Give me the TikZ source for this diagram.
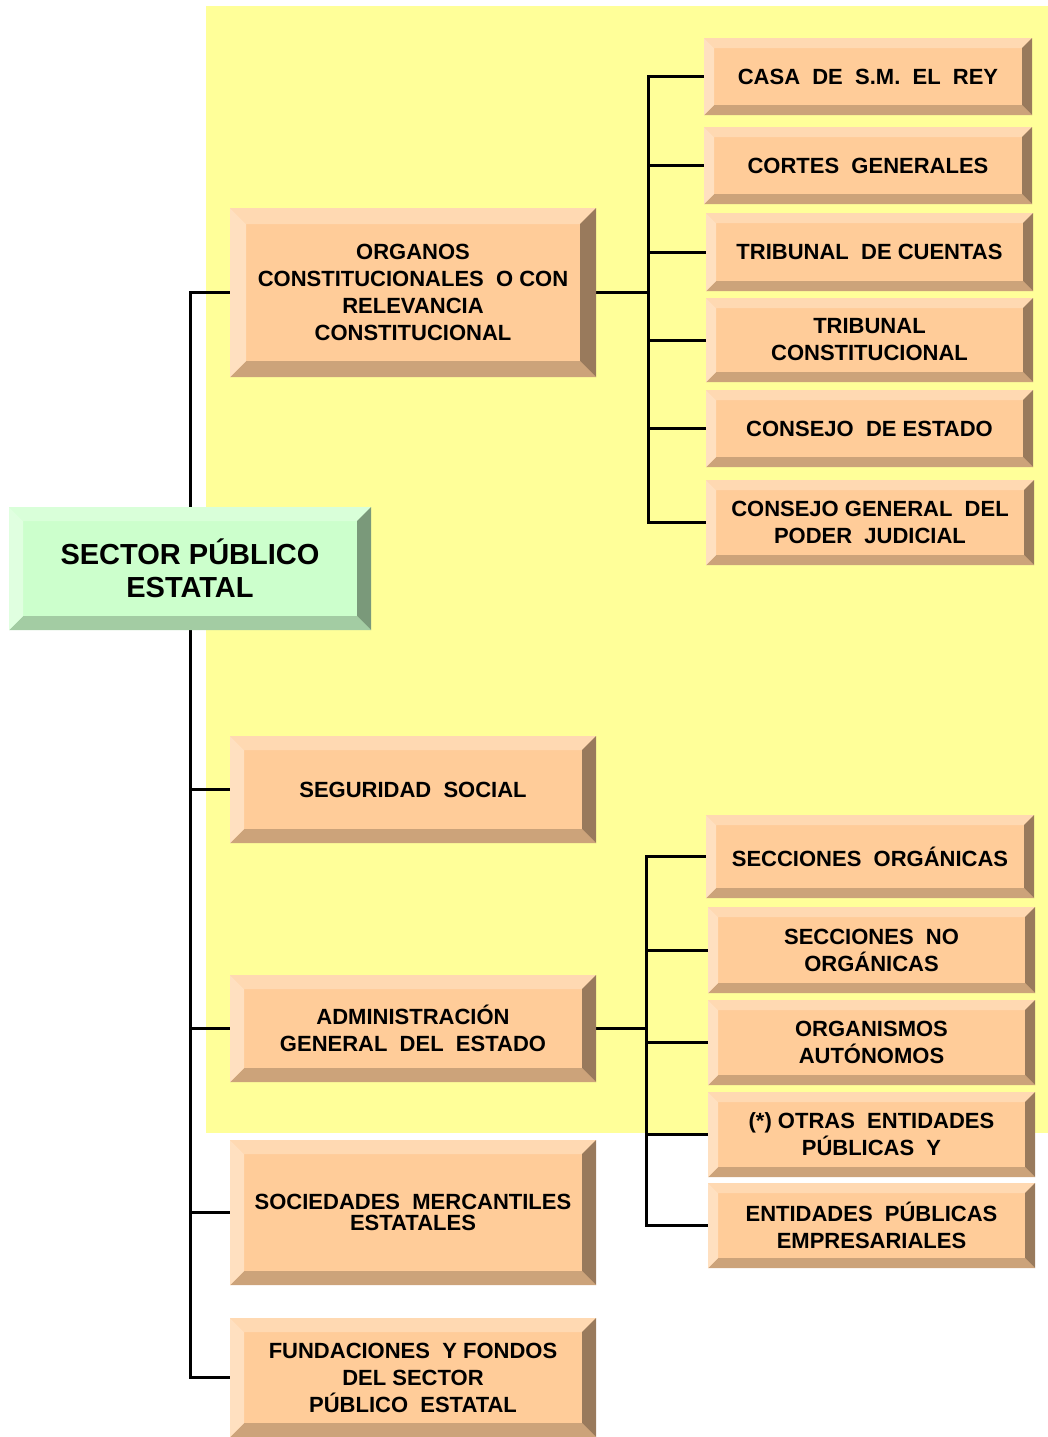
\documentclass[tikz,border=0pt]{standalone}
\usepackage{fontspec}
\setmainfont{Liberation Sans}
\usetikzlibrary{backgrounds}

\definecolor{panel}{RGB}{255,255,153}
\definecolor{orface}{RGB}{255,204,153}
\definecolor{ortop}{RGB}{255,217,178}
\definecolor{orleft}{RGB}{255,224,192}
\definecolor{orbot}{RGB}{204,163,122}
\definecolor{orright}{RGB}{153,122,92}
\definecolor{grface}{RGB}{204,255,204}
\definecolor{grtop}{RGB}{217,255,217}
\definecolor{grleft}{RGB}{224,255,224}
\definecolor{grbot}{RGB}{163,204,163}
\definecolor{grright}{RGB}{122,153,122}

\newcommand\boxfont{\bfseries\fontsize{11}{13.5}\selectfont}
\newcommand\rootfont{\bfseries\fontsize{14.5}{16.5}\selectfont}

\begin{document}
\begin{tikzpicture}[x=0.5pt,y=-0.5pt,line join=miter]

		\tikzset{
			bevel/.style n args={6}{fill=#2, path picture={
				\coordinate (pa) at (path picture bounding box.north west);
				\coordinate (pb) at (path picture bounding box.north east);
				\coordinate (pc) at (path picture bounding box.south east);
				\coordinate (pd) at (path picture bounding box.south west);
				\fill[#3] (pa) -- (pb) -- ([shift={(-#1,-#1)}]pb) -- ([shift={(#1,-#1)}]pa) -- cycle;
				\fill[#6] (pb) -- (pc) -- ([shift={(-#1,#1)}]pc) -- ([shift={(-#1,-#1)}]pb) -- cycle;
				\fill[#5] (pc) -- (pd) -- ([shift={(#1,#1)}]pd) -- ([shift={(-#1,#1)}]pc) -- cycle;
				\fill[#4] (pd) -- (pa) -- ([shift={(#1,-#1)}]pa) -- ([shift={(#1,#1)}]pd) -- cycle;
			}},
			box/.style={rectangle, inner sep=0pt, align=center, font=\boxfont},
			bsize/.style 2 args={minimum width=#1*0.5pt, minimum height=#2*0.5pt},
			orangebox/.style={box, bevel={#1}{orface}{ortop}{orleft}{orbot}{orright}},
			orangebox/.default=5pt,
			greenbox/.style={box, bevel={7pt}{grface}{grtop}{grleft}{grbot}{grright}},
			link/.style={line width=1.5pt}
		}

		\useasboundingbox (0,0) rectangle (1048,1437);

		% root
		\node[greenbox, bsize={362}{123}, font=\rootfont] (root) at (190,568.5) {SECTOR PÚBLICO\\ESTATAL};

		% left column
		\node[orangebox=8pt, bsize={366}{169}] (organos) at (413,292.5) {ORGANOS\\CONSTITUCIONALES \ O CON\\RELEVANCIA\\CONSTITUCIONAL};
		\node[orangebox=7pt, bsize={366}{107}] (segsocial) at (413,789.5) {SEGURIDAD \ SOCIAL};
		\node[orangebox=7pt, bsize={366}{107}] (age) at (413,1028.5) {ADMINISTRACIÓN\\GENERAL \ DEL \ ESTADO};
		\node[orangebox=7pt, bsize={366}{145}] (sociedades) at (413,1212.5) {SOCIEDADES \ MERCANTILES\\[-3pt]ESTATALES};
		\node[orangebox=7pt, bsize={366}{119}] (fundaciones) at (413,1377.5) {FUNDACIONES \ Y FONDOS\\DEL SECTOR\\PÚBLICO \ ESTATAL};

		% organos constitucionales
		\node[orangebox, bsize={328}{77}] (casa) at (868,76.5) {CASA \ DE \ S.M. \ EL \ REY};
		\node[orangebox, bsize={328}{77}] (cortes) at (868,165.5) {CORTES \ GENERALES};
		\node[orangebox, bsize={327}{78}] (tcuentas) at (869.5,252) {TRIBUNAL \ DE CUENTAS};
		\node[orangebox, bsize={327}{84}] (tconst) at (869.5,340) {TRIBUNAL\\CONSTITUCIONAL};
		\node[orangebox, bsize={327}{77}] (cestado) at (869.5,428.5) {CONSEJO \ DE ESTADO};
		\node[orangebox, bsize={328}{85}] (cgpj) at (870,522.5) {CONSEJO GENERAL \ DEL\\PODER \ JUDICIAL};

		% administracion general
		\node[orangebox, bsize={328}{83}] (secorg) at (870,856.5) {SECCIONES \ ORGÁNICAS};
		\node[orangebox, bsize={327}{86}] (secnoorg) at (871.5,950) {SECCIONES \ NO\\ORGÁNICAS};
		\node[orangebox, bsize={327}{85}] (orgaut) at (871.5,1042.5) {ORGANISMOS\\AUTÓNOMOS};
		\node[orangebox, bsize={327}{85}] (otras) at (871.5,1134.5) {(*) OTRAS \ ENTIDADES\\PÚBLICAS \ Y};
		\node[orangebox, bsize={327}{85}] (epe) at (871.5,1225.5) {ENTIDADES \ PÚBLICAS\\EMPRESARIALES};

		\coordinate (ojoin) at (648,292.5);
		\coordinate (ajoin) at (646,1028.5);

		\begin{scope}[on background layer]
		\fill[panel] (206,6) rectangle (1048,1133);
		\draw[link] (organos.west) -| (root.north);
		\foreach \n in {segsocial, age, sociedades, fundaciones}
		\draw[link] (\n.west) -| (root.south);
		\draw[link] (organos.east) -- (ojoin);
		\foreach \n in {casa, cortes, tcuentas, tconst, cestado, cgpj}
		\draw[link] (\n.west) -| (ojoin);
		\draw[link] (age.east) -- (ajoin);
		\foreach \n in {secorg, secnoorg, orgaut, otras, epe}
		\draw[link] (\n.west) -| (ajoin);
		\end{scope}

\end{tikzpicture}
\end{document}
